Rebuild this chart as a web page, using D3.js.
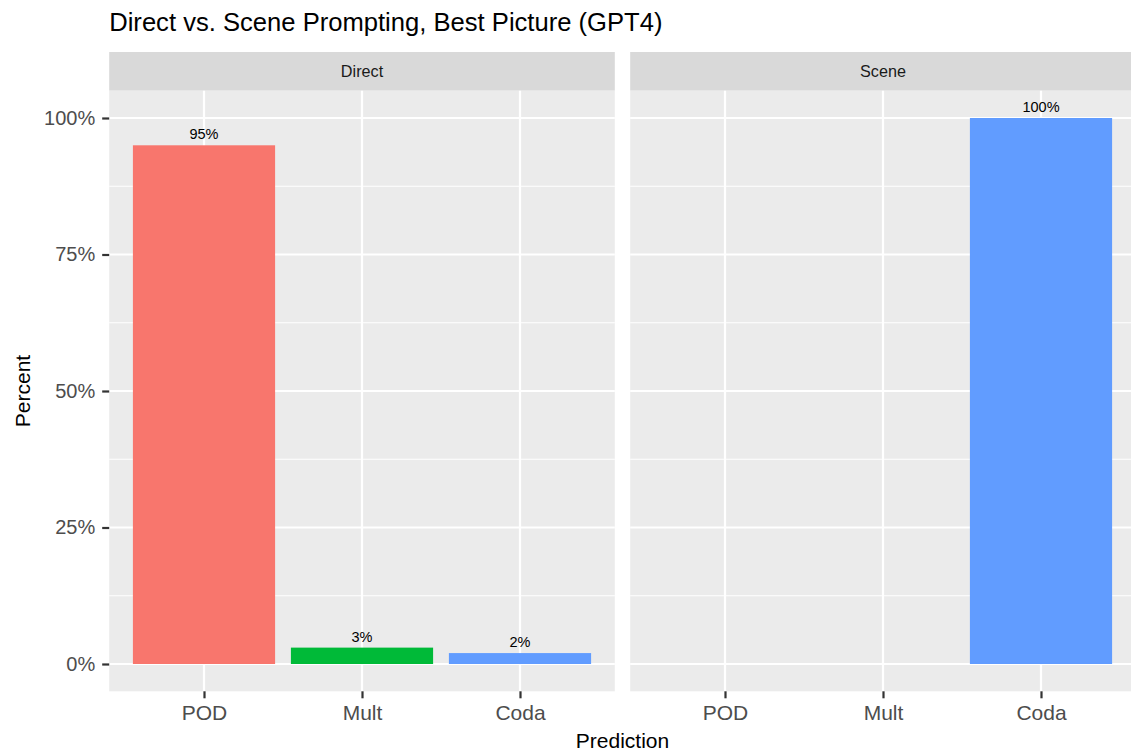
<!DOCTYPE html>
<html>
<head>
<meta charset="utf-8">
<script src="https://cdn.jsdelivr.net/npm/d3@7"></script>
<style>
  body { margin: 0; background: #fff; }
  text { font-family: "Liberation Sans", Arial, Helvetica, sans-serif; }
</style>
</head>
<body>
<svg id="chart" width="1131" height="753"></svg>
<script>
const categories = ["POD", "Mult", "Coda"];
const facets = ["Direct", "Scene"];
// percent per category, null where no bar is drawn
const directValues = [95, 3, 2];
const sceneValues = [null, null, 100];
const yTicks = [0, 25, 50, 75, 100];
const yMinor = [12.5, 37.5, 62.5, 87.5];
const colors = ["#F8766D", "#00BA38", "#619CFF"];

const svg = d3.select("#chart");
const panelTop = 90.7, panelBottom = 691.3;
const panelW = 505.6, gap = 15.4, left = 109.2;
const stripTop = 52;

const y = d3.scaleLinear().domain([-5, 105]).range([panelBottom, panelTop]);

svg.append("text")
  .attr("x", left).attr("y", 31)
  .attr("font-size", 25.6).attr("fill", "#000")
  .text("Direct vs. Scene Prompting, Best Picture (GPT4)");

const series = [directValues, sceneValues];

facets.forEach((f, i) => {
  const x0 = left + i * (panelW + gap);
  const x = d3.scalePoint().domain(categories).range([x0, x0 + panelW]).padding(0.6);
  const bw = x.step() * 0.9;
  const g = svg.append("g");

  // strip
  g.append("rect").attr("x", x0).attr("y", stripTop)
    .attr("width", panelW).attr("height", panelTop - stripTop).attr("fill", "#D9D9D9");
  g.append("text").attr("x", x0 + panelW / 2).attr("y", 76.8)
    .attr("text-anchor", "middle").attr("font-size", 16.2).attr("fill", "#1A1A1A").text(f);

  // panel
  g.append("rect").attr("x", x0).attr("y", panelTop)
    .attr("width", panelW).attr("height", panelBottom - panelTop).attr("fill", "#EBEBEB");

  g.selectAll(".minor").data(yMinor).join("line")
    .attr("x1", x0).attr("x2", x0 + panelW)
    .attr("y1", d => y(d)).attr("y2", d => y(d))
    .attr("stroke", "#fff").attr("stroke-width", 1.1);
  g.selectAll(".major").data(yTicks).join("line")
    .attr("x1", x0).attr("x2", x0 + panelW)
    .attr("y1", d => y(d)).attr("y2", d => y(d))
    .attr("stroke", "#fff").attr("stroke-width", 2.2);
  g.selectAll(".vmajor").data(categories).join("line")
    .attr("x1", d => x(d)).attr("x2", d => x(d))
    .attr("y1", panelTop).attr("y2", panelBottom)
    .attr("stroke", "#fff").attr("stroke-width", 2.2);

  const vals = series[i].map((v, k) => ({ cat: categories[k], v, k })).filter(d => d.v !== null);

  g.selectAll(".bar").data(vals).join("rect")
    .attr("x", d => x(d.cat) - bw / 2).attr("width", bw)
    .attr("y", d => y(d.v)).attr("height", d => y(0) - y(d.v))
    .attr("fill", d => colors[d.k]);

  g.selectAll(".lbl").data(vals).join("text")
    .attr("x", d => x(d.cat)).attr("y", d => y(d.v) - 6)
    .attr("text-anchor", "middle").attr("font-size", 14.5).attr("fill", "#000")
    .text(d => d.v + "%");

  // x axis
  const ax = g.append("g").attr("transform", `translate(0,${panelBottom})`)
    .call(d3.axisBottom(x).tickSize(7).tickPadding(7));
  ax.select(".domain").remove();
  ax.selectAll("line").attr("stroke", "#333").attr("stroke-width", 2.2);
  ax.selectAll("text").attr("font-size", 21).attr("fill", "#4D4D4D")
    .attr("font-family", "Liberation Sans, Arial, sans-serif");
});

// y axis
const ay = svg.append("g").attr("transform", `translate(${left},0)`)
  .call(d3.axisLeft(y).tickValues(yTicks).tickFormat(d => d + "%").tickSize(7).tickPadding(7));
ay.select(".domain").remove();
ay.selectAll("line").attr("stroke", "#333").attr("stroke-width", 2.2);
ay.selectAll("text").attr("font-size", 20).attr("fill", "#4D4D4D")
  .attr("font-family", "Liberation Sans, Arial, sans-serif");

svg.append("text")
  .attr("x", left + (2 * panelW + gap) / 2).attr("y", 748)
  .attr("text-anchor", "middle").attr("font-size", 21).attr("fill", "#000")
  .text("Prediction");

svg.append("text")
  .attr("transform", `translate(30,${(panelTop + panelBottom) / 2}) rotate(-90)`)
  .attr("text-anchor", "middle").attr("font-size", 21).attr("fill", "#000")
  .text("Percent");
</script>
</body>
</html>
